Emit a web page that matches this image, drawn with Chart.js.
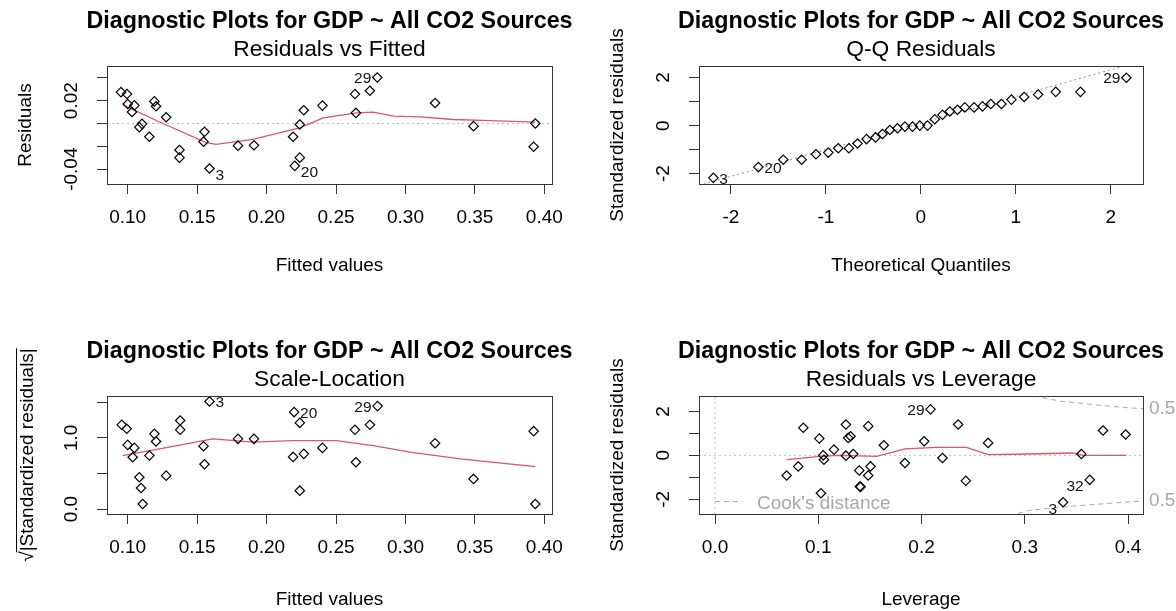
<!DOCTYPE html>
<html><head><meta charset="utf-8">
<script src="https://cdn.jsdelivr.net/npm/chart.js@4.4.1/dist/chart.umd.min.js"></script>
<style>
html,body{margin:0;padding:0;background:#fff;}
#wrap{position:relative;width:1176px;height:611px;overflow:hidden;background:#fff;}
canvas{position:absolute;}
</style></head>
<body><div id="wrap">
<canvas id="c1"></canvas><canvas id="c2"></canvas><canvas id="c3"></canvas><canvas id="c4"></canvas>
</div>
<script>
/* R plot(lm) diagnostics, redrawn with Chart.js — 4 panels, one canvas each */
const TITLE = 'Diagnostic Plots for GDP ~ All CO2 Sources';

// ---- Residuals vs Fitted ----
const fitted = [0.0952,0.0995,0.1000,0.1048,0.1031,0.1084,0.1103,0.1156,0.1192,0.1204,0.1277,0.1373,0.1373,0.1553,0.1546,0.1589,
                0.1794,0.1909,0.2191,0.2203,0.2239,0.2239,0.2268,0.2402,0.2636,0.2643,0.2744,0.2797,0.3213,0.3490,0.3935,0.3923];
const resid  = [0.0275,0.0258,0.0171,0.0159,0.0101,-0.0032,-0.0003,-0.0116,0.0194,0.0151,0.0055,-0.0232,-0.0299,-0.0072,-0.0159,-0.0394,
                -0.0194,-0.0191,-0.0116,-0.0371,-0.0299,-0.0009,0.0116,0.0157,0.0258,0.0093,0.0287,0.0403,0.0180,-0.0023,0.0000,-0.0203];
const rvfSmoothX = [0.0964,0.1217,0.1565,0.1637,0.1900,0.2239,0.2407,0.2648,0.2768,0.2912,0.3105,0.3345,0.3610,0.3935];
const rvfSmoothY = [0.0165,0.0020,-0.0168,-0.0183,-0.0139,-0.0038,0.0049,0.0093,0.0099,0.0064,0.0058,0.0035,0.0026,0.0012];
const rvfIdIdx = [15,19,27], rvfIdTxt = ['3','20','29'];
const fitTicks = [0.10,0.15,0.20,0.25,0.30,0.35,0.40];
const fitTickLbl = ['0.10','0.15','0.20','0.25','0.30','0.35','0.40'];
const residTicks = [-0.04,-0.02,0,0.02,0.04];
const residTickLbl = ['-0.04','','','0.02',''];

// ---- Q-Q Residuals ----
const qqTheo = [-2.186,-1.712,-1.449,-1.256,-1.105,-0.975,-0.870,-0.758,-0.667,-0.572,-0.477,-0.404,-0.326,-0.246,-0.168,-0.088,-0.011,
                0.070,0.147,0.228,0.305,0.386,0.463,0.561,0.649,0.737,0.849,0.954,1.088,1.235,1.421,1.681,2.165];
const qqStd  = [-2.175,-1.726,-1.418,-1.418,-1.193,-1.123,-0.940,-0.940,-0.744,-0.561,-0.491,-0.351,-0.182,-0.112,-0.042,-0.042,0.000,
                0.000,0.267,0.449,0.589,0.660,0.758,0.758,0.800,0.898,0.898,1.081,1.193,1.291,1.404,1.404,1.993];
const qqLineX = [-2.34, 2.34], qqLineY = [-2.49, 2.70];
const qqIdIdx = [0,1,32], qqIdTxt = ['3','20','29'];
const qTicks = [-2,-1,0,1,2], qTickLbl = ['-2','-1','0','1','2'];
const stdTicks = [-2,-1,0,1,2], stdTickLbl = ['-2','','0','','2'];

// ---- Scale-Location ----
const slFitted = [0.0957,0.0993,0.1000,0.1048,0.1036,0.1084,0.1096,0.1108,0.1156,0.1192,0.1204,0.1277,0.1378,0.1378,0.1546,0.1553,0.1589,
                  0.1794,0.1909,0.2191,0.2198,0.2239,0.2239,0.2268,0.2402,0.2636,0.2643,0.2744,0.2799,0.3213,0.3490,0.3923,0.3935];
const slSqrt   = [1.183,1.127,0.901,0.859,0.728,0.446,0.296,0.070,0.751,1.056,0.948,0.469,1.244,1.113,0.883,0.629,1.512,
                  0.986,0.986,0.732,1.362,1.211,0.258,0.775,0.859,1.113,0.657,1.183,1.446,0.925,0.423,1.094,0.070];
const slSmoothX = [0.0964,0.1229,0.1613,0.1900,0.2191,0.2503,0.2768,0.3033,0.3394,0.3935];
const slSmoothY = [0.751,0.845,0.986,0.939,0.962,0.962,0.892,0.798,0.704,0.596];
const slIdIdx = [16,20,28], slIdTxt = ['3','20','29'];
const sqTicks = [0,0.5,1,1.5], sqTickLbl = ['0.0','','1.0',''];

// ---- Residuals vs Leverage ----
const lev    = [0.0694,0.0806,0.0855,0.1010,0.1026,0.1048,0.1055,0.1152,0.1268,0.1268,0.1290,0.1313,0.1339,0.1397,0.1403,0.1410,
                0.1484,0.1484,0.1506,0.1635,0.1839,0.2026,0.2087,0.2203,0.2355,0.2429,0.2645,0.3371,0.3548,0.3629,0.3758,0.3977];
const levStd = [-0.916,-0.504,1.252,0.763,-1.725,0.000,-0.198,0.260,1.405,-0.015,0.794,0.870,0.061,-0.687,-1.420,-1.435,
                1.328,-0.916,-0.504,0.458,-0.351,0.641,2.092,-0.122,1.405,-1.160,0.565,-2.137,0.061,-1.115,1.130,0.947];
const levSmoothX = [0.0694,0.1016,0.1210,0.1565,0.1839,0.2145,0.2435,0.2645,0.3016,0.3468,0.3565,0.3984];
const levSmoothY = [-0.198,-0.046,0.000,-0.046,0.290,0.366,0.366,0.030,0.061,0.107,0.000,0.000];
const cookUpX = [0.300,0.334,0.366,0.398,0.420], cookUpY = [2.78,2.47,2.31,2.17,2.10];
const cookLoX = [0.285,0.305,0.334,0.366,0.398,0.420], cookLoY = [-2.75,-2.50,-2.36,-2.24,-2.13,-2.06];
const cookLblY = [2.12,-2.08], cookLblTxt = ['0.5','0.5'];
const levIdIdx = [22,29,27], levIdTxt = ['29','32','3'];
const levTicks = [0,0.1,0.2,0.3,0.4], levTickLbl = ['0.0','0.1','0.2','0.3','0.4'];

/* ---------- style ---------- */
const FONT = '"Liberation Sans", Arial, sans-serif';
const RED = '#DF536B', GREY = '#BEBEBE', AX = '#333';
const YW = 20, XH = 40;   // fixed axis thickness so the plot box lands where we want
const xy = (xs, ys) => xs.map((v, i) => ({x: v, y: ys[i]}));

function pts(xs, ys){
  return {data: xy(xs, ys), pointStyle: 'rectRot', radius: 4.7, borderColor: '#000', borderWidth: 1.2,
          backgroundColor: 'rgba(0,0,0,0)', showLine: false};
}
function line(xs, ys, color, dash, w){
  return {data: xy(xs, ys), showLine: true, pointRadius: 0, borderColor: color, borderWidth: w || 1,
          borderDash: dash || [], fill: false, tension: 0};
}

function deco(chart, cfg){
  const {ctx, chartArea: a, scales: {x, y}} = chart;
  const cx = (a.left + a.right) / 2, cy = (a.top + a.bottom) / 2;
  ctx.save();
  ctx.strokeStyle = AX; ctx.lineWidth = 1;
  ctx.strokeRect(Math.round(a.left) + 0.5, Math.round(a.top) + 0.5, Math.round(a.right - a.left), Math.round(a.bottom - a.top));
  ctx.fillStyle = '#000'; ctx.textAlign = 'center'; ctx.textBaseline = 'middle';
  ctx.font = '19px ' + FONT;
  x.ticks.forEach(t => { if (t.label) ctx.fillText(t.label, x.getPixelForValue(t.value), a.bottom + 34); });
  y.ticks.forEach(t => {
    if (!t.label) return;
    ctx.save(); ctx.translate(a.left - 35, y.getPixelForValue(t.value)); ctx.rotate(-Math.PI / 2);
    ctx.fillText(t.label, 0, 0); ctx.restore();
  });
  ctx.fillText(cfg.xTitle, cx, a.bottom + cfg.xTitleOff);
  // y title (rotated)
  ctx.save(); ctx.translate(a.left - 81, cy); ctx.rotate(-Math.PI / 2);
  if (cfg.sqrtTitle){
    const s = '\u221A', rest = cfg.yTitle;
    const w1 = ctx.measureText(s).width, w2 = ctx.measureText(rest).width, x0 = -(w1 + w2) / 2;
    ctx.textAlign = 'left'; ctx.textBaseline = 'alphabetic';
    ctx.fillText(s, x0, 7); ctx.fillText(rest, x0 + w1, 7);
    ctx.beginPath(); ctx.moveTo(x0 + w1 - 1, -9.5); ctx.lineTo(x0 + w1 + w2, -9.5); ctx.strokeStyle = '#000'; ctx.stroke();
  } else ctx.fillText(cfg.yTitle, 0, 0);
  ctx.restore();
  ctx.textAlign = 'center'; ctx.textBaseline = 'middle';
  ctx.font = 'bold 23.3px ' + FONT; ctx.fillText(TITLE, cx, a.top - 44);
  ctx.font = '22.8px ' + FONT; ctx.fillText(cfg.sub, cx, a.top - 16);
  // point ids, R style: right of the point on the left half, left of it on the right half
  const meta = chart.getDatasetMeta(0);
  ctx.font = '15.5px ' + FONT; ctx.fillStyle = '#111';
  cfg.idIdx.forEach((k, j) => {
    const p = meta.data[k], v = chart.data.datasets[0].data[k].y;
    const dy = (cfg.shiftNeg && v < 0) ? 7 : 1.5;
    if (p.x > cx){ ctx.textAlign = 'right'; ctx.fillText(cfg.idTxt[j], p.x - 6, p.y + dy); }
    else { ctx.textAlign = 'left'; ctx.fillText(cfg.idTxt[j], p.x + 6, p.y + dy); }
  });
  if (cfg.cook){
    ctx.fillStyle = '#A8A8A8'; ctx.strokeStyle = '#A8A8A8'; ctx.font = '19px ' + FONT;
    ctx.textAlign = 'left';
    cookLblY.forEach((v, i) => ctx.fillText(cookLblTxt[i], a.right + 6, y.getPixelForValue(v)));
    ctx.setLineDash([5, 4]); ctx.beginPath();
    ctx.moveTo(a.left + 16, a.bottom - 12.5); ctx.lineTo(a.left + 44, a.bottom - 12.5); ctx.stroke();
    ctx.setLineDash([]);
    ctx.fillText("Cook's distance", a.left + 58, a.bottom - 10);
  }
  ctx.restore();
}

function panel(id, rect, box, cfg){
  const el = document.getElementById(id);
  el.width = rect.w; el.height = rect.h;
  el.style.left = rect.x + 'px'; el.style.top = rect.y + 'px';
  const axis = (min, max, ticks, lbls, vertical) => ({
    type: 'linear', min, max,
    afterBuildTicks: s => { s.ticks = ticks.map(v => ({value: v})); },
    afterFit: s => { if (vertical) s.width = YW; else s.height = XH; },
    ticks: {display: false, autoSkip: false, callback: (v, i) => lbls[i]},
    grid: {drawOnChartArea: false, drawTicks: true, tickLength: 10, color: AX, lineWidth: 1},
    border: {display: false}
  });
  return new Chart(el, {
    type: 'scatter',
    data: {datasets: cfg.datasets},
    options: {
      responsive: false, animation: false, devicePixelRatio: 1,
      layout: {padding: {left: box.l - rect.x - YW, top: box.t - rect.y,
                         right: rect.x + rect.w - box.r, bottom: rect.y + rect.h - box.b - XH}},
      plugins: {legend: {display: false}, tooltip: {enabled: false}},
      scales: {x: axis(cfg.xr[0], cfg.xr[1], cfg.xt, cfg.xl, false),
               y: axis(cfg.yr[0], cfg.yr[1], cfg.yt, cfg.yl, true)}
    },
    plugins: [{id: 'rdeco', afterDraw: ch => deco(ch, cfg)}]
  });
}

const FITR = [0.0851, 0.4055];

panel('c1', {x: 0, y: 0, w: 588, h: 305}, {l: 107, t: 66, r: 552, b: 184}, {
  sub: 'Residuals vs Fitted', xTitle: 'Fitted values', yTitle: 'Residuals', xTitleOff: 82,
  xr: FITR, yr: [-0.053, 0.0504], xt: fitTicks, xl: fitTickLbl, yt: residTicks, yl: residTickLbl,
  idIdx: rvfIdIdx, idTxt: rvfIdTxt, shiftNeg: true,
  datasets: [pts(fitted, resid), line(rvfSmoothX, rvfSmoothY, RED, [], 1.3), line(FITR, [0, 0], GREY, [2, 3])]
});

panel('c2', {x: 588, y: 0, w: 588, h: 305}, {l: 699, t: 66, r: 1143, b: 184}, {
  sub: 'Q-Q Residuals', xTitle: 'Theoretical Quantiles', yTitle: 'Standardized residuals', xTitleOff: 82,
  xr: [-2.337, 2.34], yr: [-2.43, 2.48], xt: qTicks, xl: qTickLbl, yt: stdTicks, yl: stdTickLbl,
  idIdx: qqIdIdx, idTxt: qqIdTxt, shiftNeg: false,
  datasets: [pts(qqTheo, qqStd), line(qqLineX, qqLineY, '#8C8C8C', [2, 3])]
});

panel('c3', {x: 0, y: 305, w: 588, h: 306}, {l: 107, t: 396, r: 552, b: 514}, {
  sub: 'Scale-Location', xTitle: 'Fitted values', yTitle: '|Standardized residuals|', sqrtTitle: true, xTitleOff: 86,
  xr: FITR, yr: [-0.07, 1.588], xt: fitTicks, xl: fitTickLbl, yt: sqTicks, yl: sqTickLbl,
  idIdx: slIdIdx, idTxt: slIdTxt, shiftNeg: false,
  datasets: [pts(slFitted, slSqrt), line(slSmoothX, slSmoothY, RED, [], 1.3)]
});

const LEVR = [-0.0155, 0.4145], LSTDR = [-2.67, 2.70];
panel('c4', {x: 588, y: 305, w: 588, h: 306}, {l: 699, t: 396, r: 1143, b: 514}, {
  sub: 'Residuals vs Leverage', xTitle: 'Leverage', yTitle: 'Standardized residuals', xTitleOff: 86,
  xr: LEVR, yr: LSTDR, xt: levTicks, xl: levTickLbl, yt: stdTicks, yl: stdTickLbl,
  idIdx: levIdIdx, idTxt: levIdTxt, shiftNeg: true, cook: true,
  datasets: [pts(lev, levStd), line(levSmoothX, levSmoothY, RED, [], 1.3),
             line(LEVR, [0, 0], GREY, [2, 3]), line([0, 0], LSTDR, GREY, [2, 3]),
             line(cookUpX, cookUpY, '#A8A8A8', [5, 4]), line(cookLoX, cookLoY, '#A8A8A8', [5, 4])]
});
</script>
</body></html>
